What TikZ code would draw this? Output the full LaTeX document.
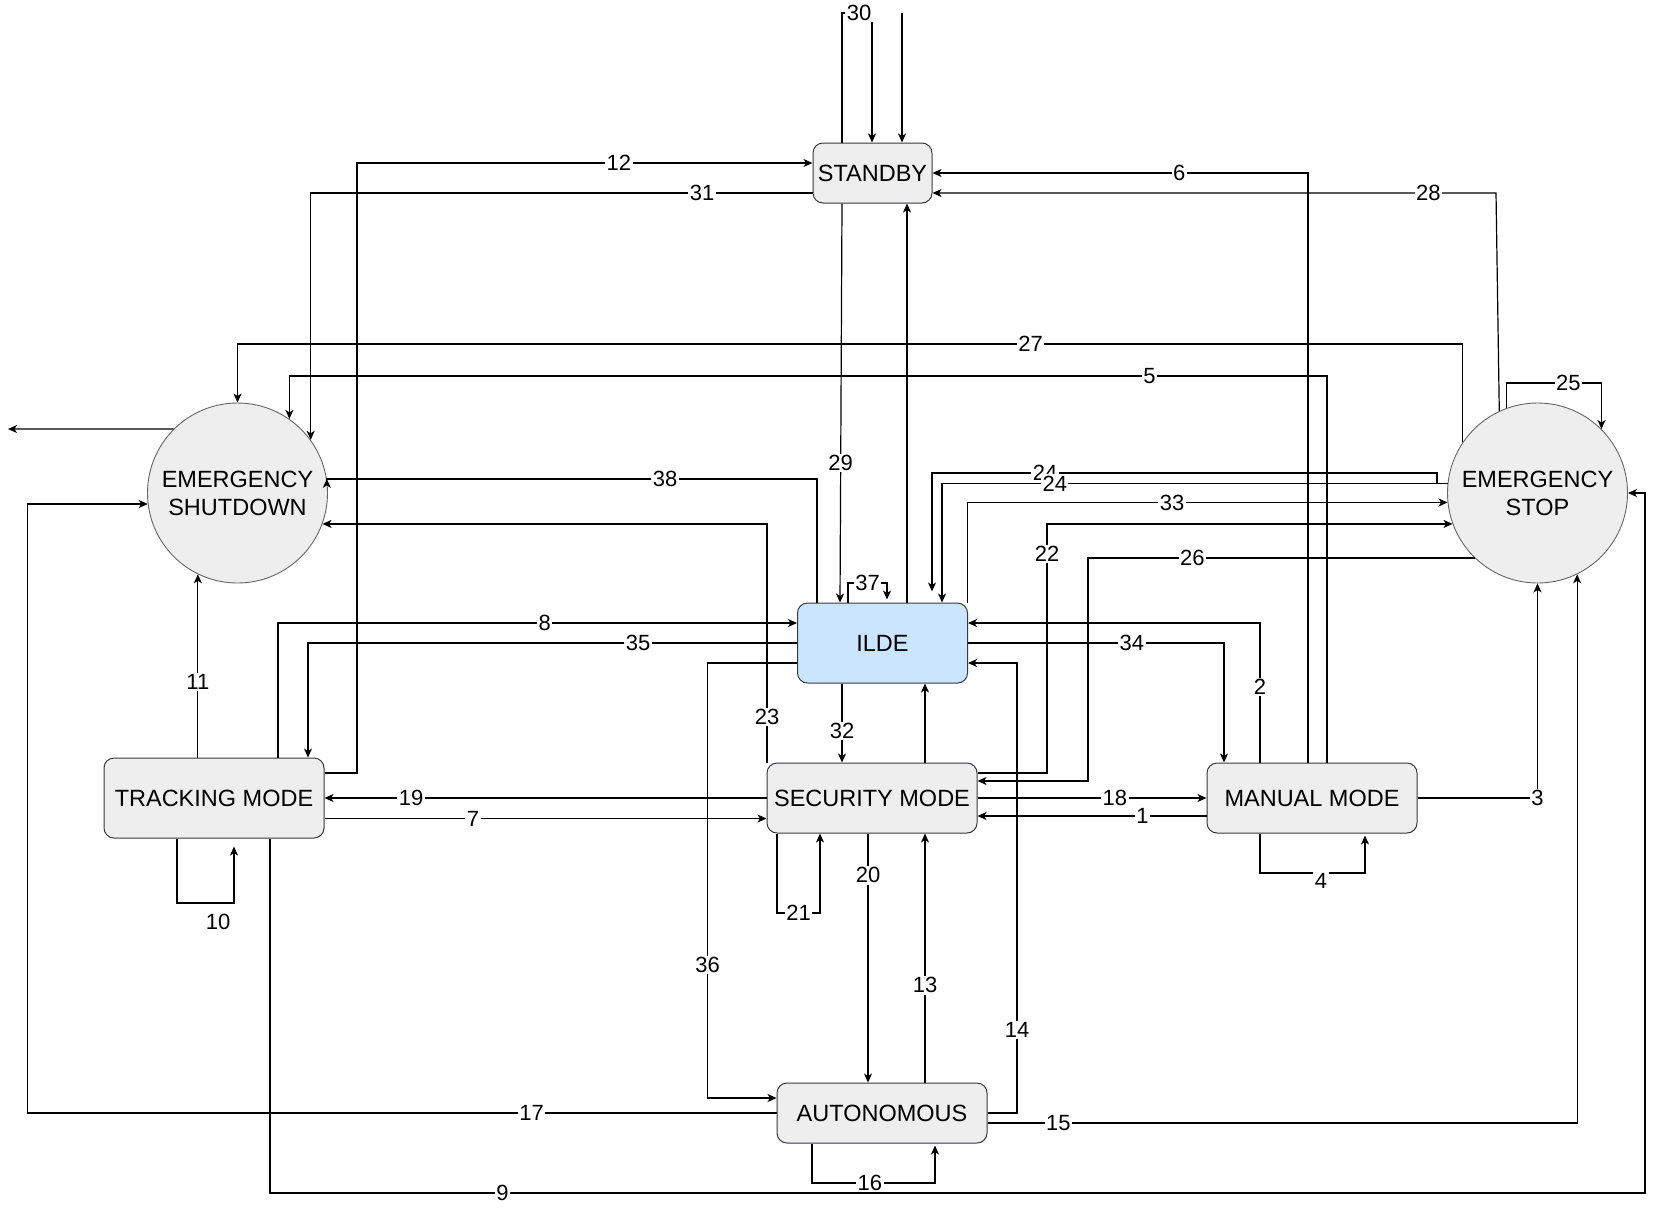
\documentclass[tikz,border=0pt]{standalone}
\usepackage{fontspec}
\setmainfont{Liberation Sans}
\usetikzlibrary{arrows.meta}
\definecolor{boxfill}{HTML}{EEEEEE}
\definecolor{boxline}{HTML}{36393D}
\definecolor{ildefill}{HTML}{CCE5FF}
\definecolor{ringline}{HTML}{666666}
\newcommand\boxfont{\fontsize{23.5}{28}\selectfont}
\newcommand\tagfont{\fontsize{22}{24}\selectfont}

\begin{document}
\begin{tikzpicture}[x=1pt,y=-1pt,
  mode/.style={draw=boxline,fill=boxfill,line width=1pt,rounded corners=10pt,inner sep=0pt,font=\boxfont},
  ring/.style={circle,draw=ringline,fill=boxfill,line width=0.9pt,minimum size=180pt,inner sep=0pt,align=center,font=\boxfont},
  link/.style={line width=1.2pt,-{Stealth[length=9pt,width=8pt,inset=2.5pt]}},
  lbl/.style={fill=white,inner sep=1.5pt,font=\tagfont}]

\useasboundingbox (0,0) rectangle (1659,1211);

% states
\node[mode,minimum width=119pt,minimum height=60pt] (standby) at (872.5,173) {STANDBY};
\node[mode,fill=ildefill,minimum width=170pt,minimum height=80pt] (ilde) at (882.5,643) {ILDE};
\node[mode,minimum width=210pt,minimum height=70pt] (security) at (872,798) {SECURITY MODE};
\node[mode,minimum width=220pt,minimum height=80pt] (tracking) at (214,798) {TRACKING MODE};
\node[mode,minimum width=210pt,minimum height=70pt] (manual) at (1312,798) {MANUAL MODE};
\node[mode,minimum width=210pt,minimum height=60pt] (auton) at (882,1113) {AUTONOMOUS};
\node[ring] (esd) at (237.5,493) {EMERGENCY\\SHUTDOWN};
\node[ring] (est) at (1537.5,493) {EMERGENCY\\STOP};

% free ends
\coordinate (outleft) at (8,429);
\coordinate (intop) at (902,13);

% transitions
\draw[link] (manual.west |- 0,816) -- node[lbl,pos=.28]{1} (security.east |- 0,816);
\draw[link] (1260,0 |- manual.north) -- node[lbl,pos=.54]{2} (1260,623) -- (ilde.east |- 0,623);
\draw[link] (manual.east) -| node[lbl,pos=.5]{3} (est.south);
\draw[link,shorten >=2pt] (1260,0 |- manual.south) -- (1260,873) -- node[lbl,pos=.58,yshift=-8pt]{4} (1365,873) -- (1365,0 |- manual.south);
\draw[link] (1327,0 |- manual.north) -- (1327,376) -- node[lbl,pos=.171]{5} (esd.55 |- 0,376) -- (esd.55);
\draw[link] (1308,0 |- manual.north) -- (1308,173) -- node[lbl,pos=.343]{6} (standby.east);
\draw[link] (tracking.east |- 0,818.5) -- node[lbl,pos=.336]{7} (security.west |- 0,818.5);
\draw[link] (278,0 |- tracking.north) -- (278,623) -- node[lbl,pos=.514]{8} (ilde.west |- 0,623);
\draw[link] (270,0 |- tracking.south) -- (270,1193) -- node[lbl,pos=.169]{9} (1645,1193) -- (1645,493) -- (est.east);
\draw[link,shorten >=8pt] (177,0 |- tracking.south) -- (177,903) -- node[lbl,pos=.72,yshift=-19pt]{10} (234,903) -- (234,0 |- tracking.south);
\draw[link] (esd.244 |- tracking.north) -- node[lbl,pos=.41]{11} (esd.244);
\draw[link] (tracking.east |- 0,773) -- (357,773) -- (357,163) -- node[lbl,pos=.575]{12} (standby.west |- 0,163);
\draw[link] (925,0 |- auton.north) -- node[lbl,pos=.39]{13} (925,0 |- security.south);
\draw[link] (auton.east) -- (1017,1113) -- node[lbl,pos=.184]{14} (1017,663) -- (ilde.east |- 0,663);
\draw[link] (auton.east |- 0,1123) -- node[lbl,pos=.12]{15} (est.296 |- 0,1123) -- (est.296);
\draw[link,shorten >=2pt] (812,0 |- auton.south) -- (812,1183) -- node[lbl,pos=.47]{16} (935,1183) -- (935,0 |- auton.south);
\draw[link] (auton.west) -- node[lbl,pos=.327]{17} (27.5,1113) -- (27.5,0 |- esd.187) -- (esd.187);
\draw[link] (security.east) -- node[lbl,pos=.6]{18} (manual.west);
\draw[link] (security.west) -- node[lbl,pos=.804]{19} (tracking.east);
\draw[link] (868,0 |- security.south) -- node[lbl,pos=.168]{20} (868,0 |- auton.north);
\draw[link] (777,0 |- security.south) -- (777,913) -- node[lbl,pos=.5]{21} (820,913) -- (820,0 |- security.south);
\draw[link] (security.east |- 0,773) -- (1047,773) -- node[lbl,pos=.88]{22} (1047,0 |- est.200) -- (est.200);
\draw[link] (767,0 |- security.north) -- node[lbl,pos=.19]{23} (767,0 |- esd.340) -- (esd.340);
\draw[link,shorten >=11pt] (est.174) -- (1437,0 |- est.174) -- (1437,473) -- node[lbl,pos=.776]{24} (932,473) -- (932,0 |- ilde.north);
\draw[link] (est.174) -- node[lbl,pos=.777]{24} (942,0 |- est.174) -- (942,0 |- ilde.north);
\draw[link] (est.110) -- (est.110 |- 0,383) -- node[lbl,pos=.65]{25} (est.45 |- 0,383) -- (est.45);
\draw[link] (est.226) -- node[lbl,pos=.73]{26} (1088,0 |- est.226) -- (1088,781) -- (security.east |- 0,781);
\draw[link] (est.146) -- (est.146 |- 0,344) -- node[lbl,pos=.3525]{27} (esd.north |- 0,344) -- (esd.north);
\draw[link] (est.115) -- (1496,193) -- node[lbl,pos=.12]{28} (standby.east |- 0,193);
\draw[link] (842,0 |- standby.south) -- node[lbl,pos=.65]{29} (840,0 |- ilde.north);
\draw[link] (842,0 |- standby.north) -- (842,13) -- node[lbl,pos=.57]{30} (872,13) -- (872,0 |- standby.north);
\draw[link] (standby.west |- 0,193) -- node[lbl,pos=.22]{31} (esd.36 |- 0,193) -- (esd.36);
\draw[link] (842,0 |- ilde.south) -- node[lbl,pos=.6]{32} (842,0 |- security.north);
\draw[link] (967.5,0 |- ilde.north) -- (967.5,0 |- est.186) -- node[lbl,pos=.426]{33} (est.186);
\draw[link] (ilde.east) -- node[lbl,pos=.64]{34} (1224,643) -- (1224,0 |- manual.north);
\draw[link] (ilde.west) -- node[lbl,pos=.325]{35} (308,643) -- (308,0 |- tracking.north);
\draw[link] (ilde.west |- 0,663) -- (707.5,663) -- node[lbl,pos=.694]{36} (707.5,1098) -- (auton.west |- 0,1098);
\draw[link,shorten >=3pt] (848,0 |- ilde.north) -- (848,583) -- node[lbl,pos=.5]{37} (887,583) -- (887,0 |- ilde.north);
\draw[link] (817,0 |- ilde.north) -- (817,479) -- node[lbl,pos=.31]{38} (esd.9 |- 0,479) -- (esd.9);
\draw[link] (907,0 |- ilde.north) -- (907,0 |- standby.south);
\draw[link] (925,0 |- security.north) -- (925,0 |- ilde.south);
\draw[link] (esd.135) -- (outleft);
\draw[link] (intop) -- (902,0 |- standby.north);
\end{tikzpicture}
\end{document}
